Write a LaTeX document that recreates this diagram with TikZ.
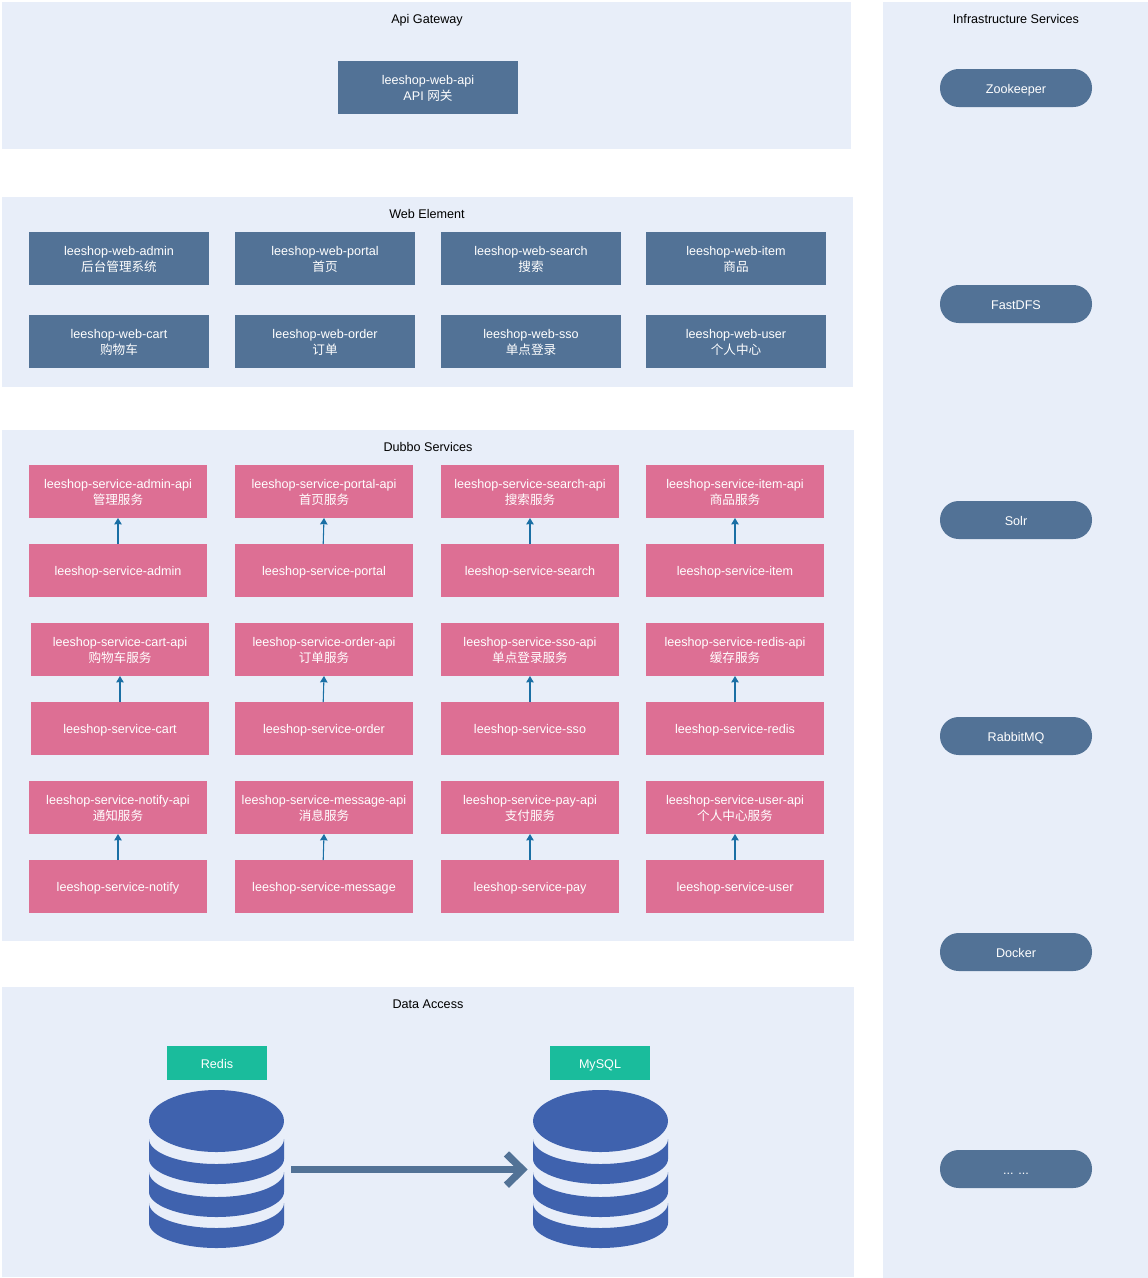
\documentclass[tikz,border=0pt]{standalone}
\usepackage{fontspec}
\setmainfont{Liberation Sans}
\newfontfamily\cjk{Noto Sans CJK SC}
\usetikzlibrary{arrows.meta}
\definecolor{panelc}{HTML}{E8EEF9}
\definecolor{slatec}{HTML}{527296}
\definecolor{pinkc}{HTML}{DD6F94}
\definecolor{tealc}{HTML}{1ABC9C}
\definecolor{dbc}{HTML}{3F62AE}
\definecolor{linkc}{HTML}{1A6FA5}
\tikzset{
  boxbase/.style={inner sep=0pt,outer sep=0pt,align=center,font=\fontsize{9.45}{12}\selectfont},
  panel/.style={boxbase,fill=panelc},
  title/.style={boxbase,text=black},
  web/.style={boxbase,fill=slatec,text=white},
  svc/.style={boxbase,fill=pinkc,text=white},
  store/.style={boxbase,fill=tealc,text=white},
  pill/.style={boxbase,fill=slatec,text=white,rounded corners=14pt},
  dep/.style={draw=linkc,line width=0.8pt,-{Stealth[length=4.8pt,inset=0.3pt,width=5.6pt]}},
  flow/.style={draw=slatec,line width=4.9pt,-{Straight Barb[length=12pt,width=23.5pt,line width=5.5pt]}},
  dbshape/.style={inner sep=0pt,outer sep=0pt,minimum width=101.25pt,minimum height=118.5pt},
}
% fixed baselines: single-line labels, and the two lines of a two-line label
\newcommand{\sline}[1]{\raisebox{0pt}[9pt][1.5pt]{#1}}
\newcommand{\tline}[2]{\raisebox{0pt}[7.5pt][0pt]{#1}\\\raisebox{0pt}[0pt][0pt]{#2}}
\newcommand{\bx}[7]{\node[#2,minimum width={(#5-#3)*0.75pt},minimum height={(#6-#4)*0.75pt}] (#1) at ({(#3+#5)/2},{(#4+#6)/2}) {#7};}
\newcommand{\dbband}[1]{\fill[dbc] (-67.5,#1) .. controls (-67.5,#1+13.8) and (-37.3,#1+25) .. (0,#1+25) .. controls (37.3,#1+25) and (67.5,#1+13.8) .. (67.5,#1) -- (67.5,#1+20) .. controls (67.5,#1+33) and (37.3,#1+45) .. (0,#1+45) .. controls (-37.3,#1+45) and (-67.5,#1+33) .. (-67.5,#1+20) -- cycle;}
\newcommand{\dbicon}[2]{\node[dbshape] (#1) at (#2,1169) {};
  \begin{scope}[shift={(#2,0)}]
    \fill[dbc] (0,1121) ellipse [x radius=50.6pt,y radius=23.25pt];
    \dbband{1139}\dbband{1172}\dbband{1203}
  \end{scope}}
\begin{document}
\begin{tikzpicture}[x=0.75pt,y=-0.75pt]
\useasboundingbox (0,0) rectangle (1148,1278);
% panels
\bx{pgate}{panel}{2}{2}{851}{149}{}
\bx{pweb}{panel}{2}{197}{853}{387}{}
\bx{pdubbo}{panel}{2}{430}{854}{941}{}
\bx{pdata}{panel}{2}{987}{854}{1277}{}
\bx{pinfra}{panel}{883}{2}{1148}{1278}{}
\node[title] (tgate) at (427,18) {\sline{Api Gateway}};
\node[title] (tweb) at (427,213) {\sline{Web Element}};
\node[title] (tdubbo) at (428,446) {\sline{Dubbo Services}};
\node[title] (tdata) at (428,1003) {\sline{Data Access}};
\node[title] (tinfra) at (1016,18) {\sline{Infrastructure Services}};
% gateway
\bx{gw}{web}{338}{61}{518}{114}{\tline{leeshop-web-api}{API {\cjk 网关}}}
% web element
\bx{w1}{web}{29}{232}{209}{285}{\tline{leeshop-web-admin}{{\cjk 后台管理系统}}}
\bx{w2}{web}{235}{232}{415}{285}{\tline{leeshop-web-portal}{{\cjk 首页}}}
\bx{w3}{web}{441}{232}{621}{285}{\tline{leeshop-web-search}{{\cjk 搜索}}}
\bx{w4}{web}{646}{232}{826}{285}{\tline{leeshop-web-item}{{\cjk 商品}}}
\bx{w5}{web}{29}{315}{209}{368}{\tline{leeshop-web-cart}{{\cjk 购物车}}}
\bx{w6}{web}{235}{315}{415}{368}{\tline{leeshop-web-order}{{\cjk 订单}}}
\bx{w7}{web}{441}{315}{621}{368}{\tline{leeshop-web-sso}{{\cjk 单点登录}}}
\bx{w8}{web}{646}{315}{826}{368}{\tline{leeshop-web-user}{{\cjk 个人中心}}}
% dubbo row 1
\bx{a1}{svc}{29}{465}{207}{518}{\tline{leeshop-service-admin-api}{{\cjk 管理服务}}}
\bx{a2}{svc}{235}{465}{413}{518}{\tline{leeshop-service-portal-api}{{\cjk 首页服务}}}
\bx{a3}{svc}{441}{465}{619}{518}{\tline{leeshop-service-search-api}{{\cjk 搜索服务}}}
\bx{a4}{svc}{646}{465}{824}{518}{\tline{leeshop-service-item-api}{{\cjk 商品服务}}}
\bx{s1}{svc}{29}{544}{207}{597}{\sline{leeshop-service-admin}}
\bx{s2}{svc}{235}{544}{413}{597}{\sline{leeshop-service-portal}}
\bx{s3}{svc}{441}{544}{619}{597}{\sline{leeshop-service-search}}
\bx{s4}{svc}{646}{544}{824}{597}{\sline{leeshop-service-item}}
% dubbo row 2
\bx{a5}{svc}{31}{623}{209}{676}{\tline{leeshop-service-cart-api}{{\cjk 购物车服务}}}
\bx{a6}{svc}{235}{623}{413}{676}{\tline{leeshop-service-order-api}{{\cjk 订单服务}}}
\bx{a7}{svc}{441}{623}{619}{676}{\tline{leeshop-service-sso-api}{{\cjk 单点登录服务}}}
\bx{a8}{svc}{646}{623}{824}{676}{\tline{leeshop-service-redis-api}{{\cjk 缓存服务}}}
\bx{s5}{svc}{31}{702}{209}{755}{\sline{leeshop-service-cart}}
\bx{s6}{svc}{235}{702}{413}{755}{\sline{leeshop-service-order}}
\bx{s7}{svc}{441}{702}{619}{755}{\sline{leeshop-service-sso}}
\bx{s8}{svc}{646}{702}{824}{755}{\sline{leeshop-service-redis}}
% dubbo row 3
\bx{a9}{svc}{29}{781}{207}{834}{\tline{leeshop-service-notify-api}{{\cjk 通知服务}}}
\bx{a10}{svc}{235}{781}{413}{834}{\tline{leeshop-service-message-api}{{\cjk 消息服务}}}
\bx{a11}{svc}{441}{781}{619}{834}{\tline{leeshop-service-pay-api}{{\cjk 支付服务}}}
\bx{a12}{svc}{646}{781}{824}{834}{\tline{leeshop-service-user-api}{{\cjk 个人中心服务}}}
\bx{s9}{svc}{29}{860}{207}{913}{\sline{leeshop-service-notify}}
\bx{s10}{svc}{235}{860}{413}{913}{\sline{leeshop-service-message}}
\bx{s11}{svc}{441}{860}{619}{913}{\sline{leeshop-service-pay}}
\bx{s12}{svc}{646}{860}{824}{913}{\sline{leeshop-service-user}}
\foreach \i in {1,3,4,5,7,8,9,11,12} {\draw[dep] (s\i.north) -- (a\i.south);}
\foreach \i in {2,6,10} {\draw[dep] ([xshift=-0.6pt]s\i.north) -- (a\i.south);}
% data access
\bx{redis}{store}{167}{1046}{267}{1080}{\sline{Redis}}
\bx{mysql}{store}{550}{1046}{650}{1080}{\sline{MySQL}}
\dbicon{dbredis}{216.5}
\dbicon{dbmysql}{600.5}
\draw[flow] ([xshift=5.25pt,yshift=-0.4pt]dbredis.east) -- ([xshift=-4pt,yshift=-0.4pt]dbmysql.west);
% infrastructure
\bx{i1}{pill}{940}{69}{1092}{107}{\sline{Zookeeper}}
\bx{i2}{pill}{940}{285}{1092}{323}{\sline{FastDFS}}
\bx{i3}{pill}{940}{501}{1092}{539}{\sline{Solr}}
\bx{i4}{pill}{940}{717}{1092}{755}{\sline{RabbitMQ}}
\bx{i5}{pill}{940}{933}{1092}{971}{\sline{Docker}}
\bx{i6}{pill}{940}{1150}{1092}{1188}{\sline{... ...}}
\end{tikzpicture}
\end{document}
